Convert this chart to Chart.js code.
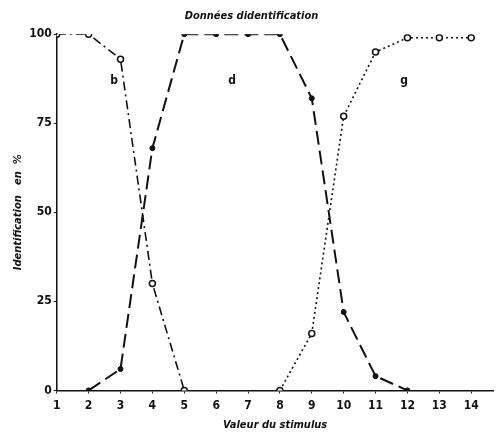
<!DOCTYPE html>
<html lang="fr">
<head>
    <meta charset="UTF-8">
    <title>Données d'identification</title>
    <script src="https://cdn.jsdelivr.net/npm/chart.js"></script>
    <style>
        body { margin: 0; background: #fff; }
        #wrap { width: 499px; height: 439px; }
    </style>
</head>
<body>
    <div id="wrap"><canvas id="idChart" width="499" height="439"></canvas></div>

    <script>
        // stimulus values and identification percentages
        const xTicks = [1, 2, 3, 4, 5, 6, 7, 8, 9, 10, 11, 12, 13, 14];
        const yTicks = [0, 25, 50, 75, 100];

        const bX = [1, 2, 3, 4, 5];
        const bY = [100, 100, 93, 30, 0];

        const dX = [2, 3, 4, 5, 6, 7, 8, 9, 10, 11, 12];
        const dY = [0, 6, 68, 100, 100, 100, 100, 82, 22, 4, 0];

        const gX = [8, 9, 10, 11, 12, 13, 14];
        const gY = [0, 16, 77, 95, 99, 99, 99];

        const curveLabels = ['b', 'd', 'g'];
        const labelX = [2.8, 6.5, 11.9];
        const labelY = [87, 87, 87];

        const ink = '#111';
        const font = 'DejaVu Sans Condensed, DejaVu Sans, sans-serif';

        function pts(xs, ys) {
            return xs.map((x, i) => ({ x: x, y: ys[i] }));
        }

        // draws the b / d / g letters next to each curve
        const letterPlugin = {
            id: 'letters',
            afterDatasetsDraw(chart) {
                const ctx = chart.ctx;
                const sx = chart.scales.x, sy = chart.scales.y;
                ctx.save();
                ctx.fillStyle = ink;
                ctx.font = 'bold 12px ' + font;
                ctx.textAlign = 'center';
                ctx.textBaseline = 'middle';
                curveLabels.forEach((t, i) => {
                    ctx.fillText(t, sx.getPixelForValue(labelX[i]), sy.getPixelForValue(labelY[i]));
                });
                ctx.restore();
            }
        };

        new Chart(document.getElementById('idChart'), {
            type: 'line',
            data: {
                datasets: [{
                    label: 'b',
                    data: pts(bX, bY),
                    borderColor: ink,
                    borderWidth: 1.6,
                    borderDash: [9, 4, 2, 4],
                    pointRadius: 3,
                    pointBackgroundColor: '#fff',
                    pointBorderColor: ink,
                    pointBorderWidth: 1.5
                }, {
                    label: 'd',
                    data: pts(dX, dY),
                    borderColor: ink,
                    borderWidth: 2,
                    borderDash: [14, 6],
                    pointRadius: 2.5,
                    pointBackgroundColor: ink,
                    pointBorderColor: ink,
                    pointBorderWidth: 1
                }, {
                    label: 'g',
                    data: pts(gX, gY),
                    borderColor: ink,
                    borderWidth: 1.6,
                    borderDash: [2, 3],
                    pointRadius: 3,
                    pointBackgroundColor: '#fff',
                    pointBorderColor: ink,
                    pointBorderWidth: 1.5
                }]
            },
            options: {
                responsive: false,
                animation: false,
                layout: { padding: { top: 4, right: 4, left: 8, bottom: 3 } },
                plugins: {
                    legend: { display: false },
                    tooltip: { enabled: false },
                    title: {
                        display: true,
                        text: 'Données didentification',
                        color: ink,
                        font: { family: font, size: 11, style: 'italic' },
                        padding: { top: 6, bottom: 11 }
                    }
                },
                scales: {
                    x: {
                        type: 'linear',
                        min: 1,
                        max: 14.7,
                        afterBuildTicks(axis) {
                            axis.ticks = xTicks.map(v => ({ value: v }));
                        },
                        grid: { drawOnChartArea: false, color: ink, tickLength: 3 },
                        border: { color: ink, width: 1.5 },
                        ticks: { color: ink, font: { family: font, size: 12, weight: 'bold' }, padding: 5 },
                        title: {
                            display: true,
                            text: 'Valeur du stimulus',
                            color: ink,
                            font: { family: font, size: 11, style: 'italic', weight: 'bold' },
                            padding: { top: 1 }
                        }
                    },
                    y: {
                        min: 0,
                        max: 100,
                        afterBuildTicks(axis) {
                            axis.ticks = yTicks.map(v => ({ value: v }));
                        },
                        grid: { drawOnChartArea: false, color: ink, tickLength: 3 },
                        border: { color: ink, width: 1.5 },
                        ticks: { color: ink, font: { family: font, size: 12, weight: 'bold' }, padding: 2 },
                        title: {
                            display: true,
                            text: 'Identification   en  %',
                            color: ink,
                            font: { family: font, size: 11, style: 'italic', weight: 'bold' },
                            padding: { bottom: 2 }
                        }
                    }
                }
            },
            plugins: [letterPlugin]
        });
    </script>
</body>
</html>
